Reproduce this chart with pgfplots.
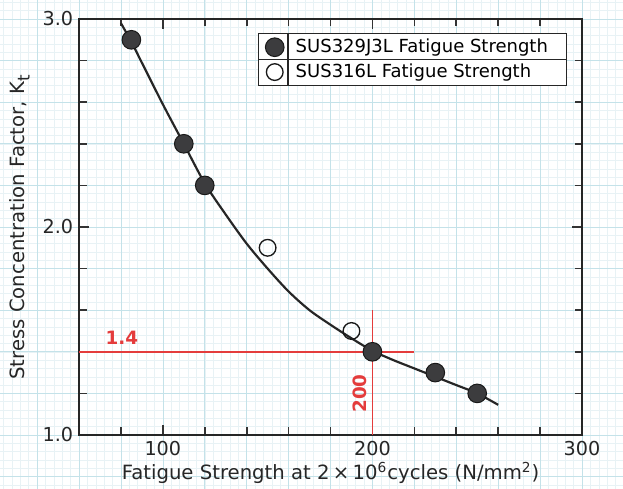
\documentclass[border=0pt]{standalone}
\usepackage{fontspec}
\setmainfont{DejaVu Sans}
\usepackage{pgfplots}
\pgfplotsset{compat=1.18}
\definecolor{gridmid}{RGB}{196,226,233}
\definecolor{gridfine}{RGB}{232,242,245}
\definecolor{redline}{RGB}{228,60,60}
\definecolor{dotfill}{RGB}{60,60,62}
\begin{document}
\begin{tikzpicture}
\useasboundingbox (-47.4pt,-32.4pt) rectangle (326.4pt,261pt);
\fill[white] (-47.4pt,-32.4pt) rectangle (326.4pt,261pt);
\draw[gridfine, line width=0.3pt, xstep=5.03pt, ystep=4.992pt] (-47.4pt,-32.4pt) grid (326.4pt,261pt);
\draw[gridmid, line width=0.4pt, xstep=25.15pt, ystep=24.96pt] (-47.4pt,-32.4pt) grid (326.4pt,261pt);
\begin{axis}[
  at={(0,0)}, anchor=south west,
  scale only axis, width=301.8pt, height=249.6pt,
  xmin=60, xmax=300, ymin=1, ymax=3,
  xtick={100,200,300}, minor xtick={80,120,140,160,180,220,240,260,280},
  ytick={1,2,3}, minor ytick={1.2,1.4,1.6,1.8,2.2,2.4,2.6,2.8},
  yticklabel style={/pgf/number format/.cd, fixed, fixed zerofill, precision=1},
  /pgf/number format/assume math mode=true,
  tick align=inside,
  major tick length=6pt, minor tick length=4.5pt,
  tick style={line width=1pt, black!80},
  axis line style={line width=1.3pt, black!85},
  ticklabel style={font=\fontsize{11.5}{13}\selectfont, text=black!85},
  label style={font=\fontsize{11.8}{14}\selectfont, text=black!85},
  xlabel={Fatigue Strength at 2\,×\,10\textsuperscript{6}cycles\ (N/mm\textsuperscript{2})},
  ylabel={Stress Concentration Factor, K\textsubscript{\fontsize{10}{10}\selectfont t}},
  xlabel style={yshift=3pt},
  ylabel style={yshift=1pt},
  clip=false,
  legend style={name=leg, at={(0.356,0.966)}, anchor=north west,
    draw=black!85, line width=0.8pt, font=\fontsize{10.8}{12.5}\selectfont,
    fill=white, inner xsep=4pt, inner ysep=1.2pt, row sep=1.2pt,
    nodes={inner xsep=7pt}},
  legend cell align=left,
]
% smooth fitted curve
\addplot[black!85, line width=1.3pt, smooth, forget plot] coordinates {
  (80,2.98) (85,2.89) (90,2.79) (100,2.59) (110,2.40) (120,2.21) (130,2.06)
  (140,1.92) (150,1.80) (160,1.69) (170,1.60) (180,1.53) (190,1.465)
  (200,1.405) (210,1.36) (220,1.32) (230,1.28) (240,1.24) (250,1.20) (260,1.145)};
% red guide lines
\addplot[redline, line width=0.9pt, forget plot] coordinates {(60,1.4) (220,1.4)};
\addplot[redline, line width=0.9pt, forget plot] coordinates {(200,1) (200,1.6)};
\addplot[only marks, mark=*, mark size=5.6pt, mark options={fill=dotfill, draw=black!90, line width=0.6pt}]
  coordinates {(85,2.9) (110,2.4) (120,2.2) (200,1.4) (230,1.3) (250,1.2)};
\addlegendentry{SUS329J3L Fatigue Strength}
\addplot[only marks, mark=o, mark size=5pt, mark options={fill=white, draw=black!90, line width=0.8pt}]
  coordinates {(150,1.9) (190,1.5)};
\addlegendentry{SUS316L Fatigue Strength}
\node[text=redline, font=\fontsize{11}{13}\selectfont\bfseries, anchor=south] at (axis cs:80.5,1.405) {1.4};
\node[text=redline, font=\fontsize{11}{13}\selectfont\bfseries, rotate=90, anchor=south] at (axis cs:200,1.2) {200};
\end{axis}
\draw[black!85, line width=0.8pt] (leg.west) -- (leg.east);
\draw[black!85, line width=0.8pt] ([xshift=18pt]leg.north west) -- ([xshift=18pt]leg.south west);
\end{tikzpicture}
\end{document}
